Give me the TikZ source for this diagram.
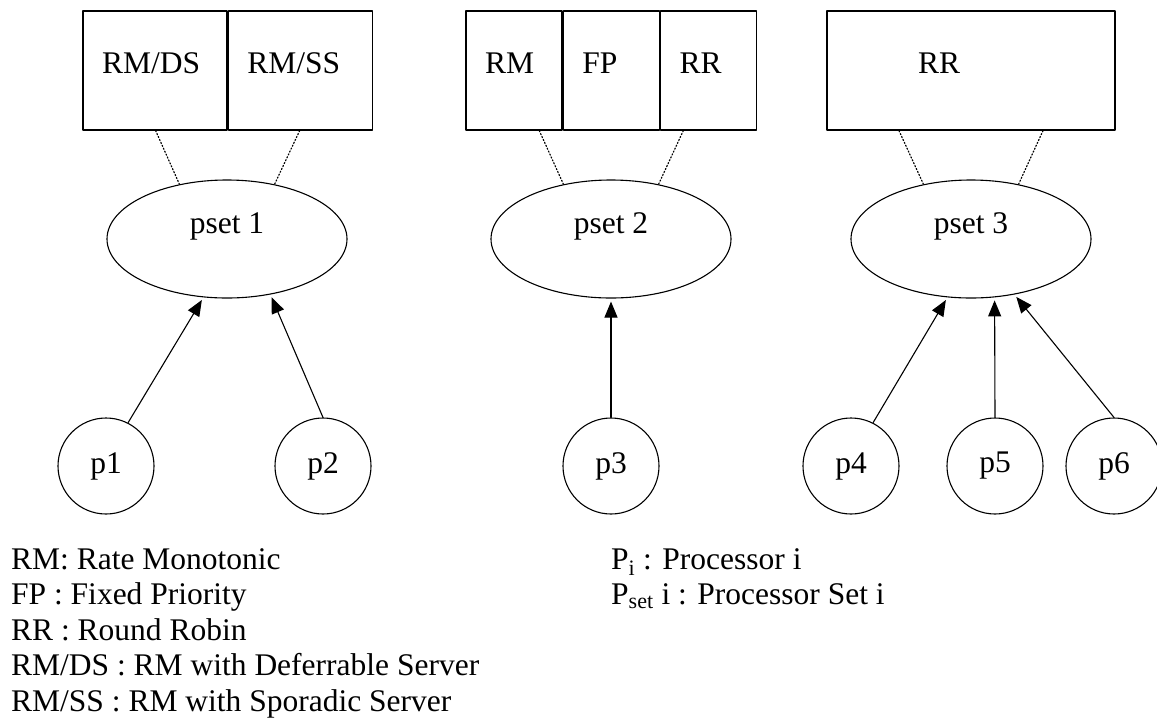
\documentclass[tikz,border=0pt]{standalone}
\usepackage{fontspec}
\setmainfont{Liberation Serif}
\usetikzlibrary{arrows.meta,positioning,shapes.geometric}

\begin{document}
\begin{tikzpicture}[
  x=1pt,
  y=-1pt,
  line cap=round,
  line join=round,
  every node/.style={font=\fontsize{31.5}{36}\selectfont, inner sep=0pt},
  feed/.style={draw=black, -{Triangle[length=16pt, width=13pt]}, line width=1.1pt, shorten >=3pt},
  link/.style={draw=black, dotted, line width=1.2pt}
]

% ---------- node styles ----------
\tikzset{
  cell/.style={draw=black, line width=1.3pt, minimum height=119pt, text height=21pt, text depth=16pt, align=left, inner xsep=19pt},
  psetNode/.style={ellipse, draw=black, line width=1.1pt, minimum width=240pt, minimum height=118pt, text height=21pt, text depth=33pt},
  procNode/.style={circle, draw=black, line width=1.1pt, minimum size=96pt},
  keyText/.style={anchor=base west}
}

\useasboundingbox (0,0) rectangle (1157,721);

% ---------- scheduler boxes ----------
\node[cell, text width=106pt] (rmds) at (155,70.5) {RM/DS};
\node[cell, text width=106pt, right=0pt of rmds] (rmss) {RM/SS};

\node[cell, text width=58pt] (rm) at (514,70.5) {RM};
\node[cell, text width=58pt, right=0pt of rm] (fp) {FP};
\node[cell, text width=58pt, right=0pt of fp] (rr) {RR};

\node[cell, text width=106pt, inner xsep=91pt] (rrbox) at (971,70.5) {RR};

% ---------- processor sets ----------
\node[psetNode] (pset1) at (227,239) {pset 1};
\node[psetNode] (pset2) at (611,239) {pset 2};
\node[psetNode] (pset3) at (971,239) {pset 3};

\draw[link] ([xshift=-72pt]rmds.south east) -- (pset1.131);
\draw[link] ([xshift=72pt]rmds.south east) -- (pset1.49);
\draw[link] ([xshift=-72pt]fp.south) -- (pset2.131);
\draw[link] ([xshift=72pt]fp.south) -- (pset2.49);
\draw[link] ([xshift=-72pt]rrbox.south) -- (pset3.131);
\draw[link] ([xshift=72pt]rrbox.south) -- (pset3.49);

% ---------- processors ----------
\node[procNode] (p1) at (106,466) {p1};
\node[procNode] (p2) at (323,466) {p2};
\node[procNode] (p3) at (611,466) {p3};
\node[procNode] (p4) at (851,466) {p4};
\node[procNode] (p5) at (995,466) {p5};
\node[procNode] (p6) at (1114,466) {p6};

\draw[feed] (p1.63) -- (pset1.248);
\draw[feed] (p2.north) -- (pset1.308);
\draw[feed] (p3.north) -- (pset2.south);
\draw[feed] (p4.63) -- (pset3.248);
\draw[feed] (p5.north) -- (pset3.292);
\draw[feed] (p6.north) -- (pset3.308);

% ---------- legend ----------
\foreach \txt [count=\i] in {RM: Rate Monotonic, FP : Fixed Priority, RR : Round Robin, RM/DS : RM with Deferrable Server, RM/SS : RM with Sporadic Server}
  \node[keyText] (key\i) at (11,{569+35.5*(\i-1)}) {\txt};

\node[keyText] (keyP) at (611,569) {P\textsubscript{i} : Processor i};
\node[keyText] (keyPset) at (611,604.5) {P\textsubscript{set} i : Processor Set i};

\end{tikzpicture}
\end{document}
